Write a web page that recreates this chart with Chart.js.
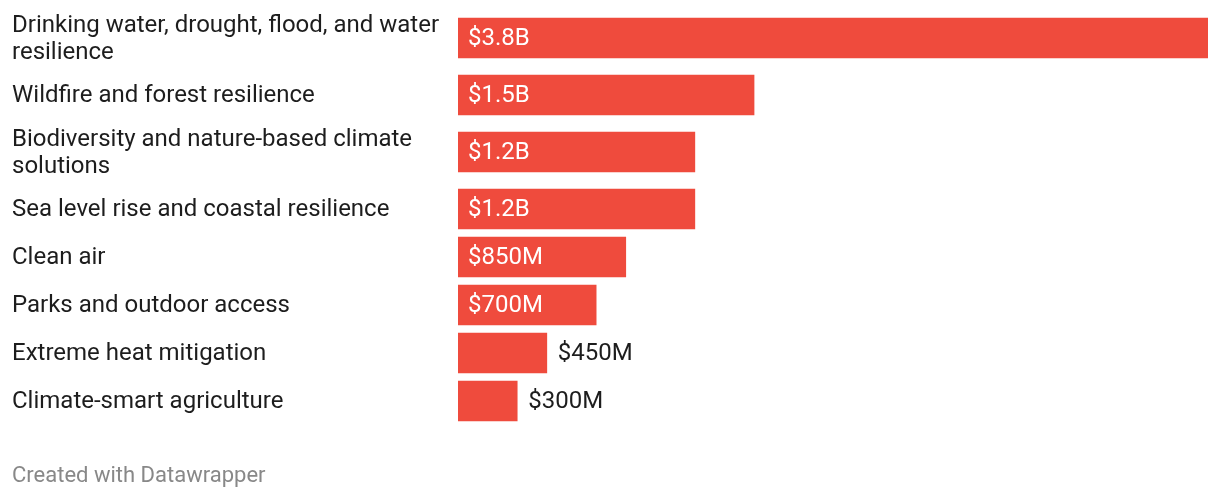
<!DOCTYPE html>
<html>
<head>
<meta charset="utf-8">
<script src="https://cdn.jsdelivr.net/npm/chart.js@4"></script>
<style>
  body { margin: 0; background: #fff; }
  #wrap { width: 1220px; height: 498px; }
</style>
</head>
<body>
<div id="wrap"><canvas id="funding-chart"></canvas></div>
<script>
"use strict";

Chart.defaults.font.family = "Roboto, 'Noto Sans', sans-serif";
Chart.defaults.font.size = 24;

// categories (arrays = wrapped lines), values in billions of dollars
var categories = [
  ["Drinking water, drought, flood, and water", "resilience"],
  ["Wildfire and forest resilience"],
  ["Biodiversity and nature-based climate", "solutions"],
  ["Sea level rise and coastal resilience"],
  ["Clean air"],
  ["Parks and outdoor access"],
  ["Extreme heat mitigation"],
  ["Climate-smart agriculture"],
];
var amounts = [3.8, 1.5, 1.2, 1.2, 0.85, 0.7, 0.45, 0.3];

function money(v) {
  return v >= 1 ? "$" + v.toFixed(1) + "B" : "$" + Math.round(v * 1000) + "M";
}

// row slots: taller rows where the label wraps
var rowPos = [];
var acc = 0;
categories.forEach(function (lines) {
  var h = 48 + 18 * (lines.length - 1);
  rowPos.push(acc + h / 2);
  acc += h;
});

var barLabels = {
  id: "barLabels",
  afterDatasetsDraw: function (chart) {
    var ctx = chart.ctx;
    var meta = chart.getDatasetMeta(0);
    ctx.save();
    ctx.font = "24px Roboto, 'Noto Sans', sans-serif";
    ctx.textBaseline = "middle";
    ctx.textAlign = "left";
    meta.data.forEach(function (bar, i) {
      var txt = money(amounts[i]);
      var w = ctx.measureText(txt).width;
      var barW = bar.x - bar.base;
      if (barW > w + 40) {
        ctx.fillStyle = "#ffffff";
        ctx.fillText(txt, bar.base + 10, bar.y + 1);
      } else {
        ctx.fillStyle = "#1d1d1d";
        ctx.fillText(txt, bar.x + 11, bar.y + 1);
      }
    });
    ctx.restore();
  },
};

var ctx1 = document.getElementById("funding-chart").getContext("2d");

var fundingChart = new Chart(ctx1, {
  type: "bar",
  data: {
    datasets: [
      {
        data: amounts.map(function (v, i) {
          return { x: v, y: rowPos[i] };
        }),
        backgroundColor: "#ef4b3d",
        barThickness: 40,
      },
    ],
  },
  options: {
    indexAxis: "y",
    responsive: true,
    maintainAspectRatio: false,
    animation: false,
    layout: {
      padding: { left: 12, right: 12, top: 5, bottom: 0 },
    },
    plugins: {
      legend: { display: false },
      tooltip: { enabled: false },
      title: {
        display: true,
        text: "Created with Datawrapper",
        position: "bottom",
        align: "start",
        color: "#888888",
        font: { size: 22, weight: "normal", lineHeight: 1.2 },
        padding: { top: 37.8, bottom: 8.8 },
      },
    },
    scales: {
      x: {
        display: false,
        min: 0,
        max: 3.8,
      },
      y: {
        type: "linear",
        reverse: true,
        offset: false,
        grace: 0,
        min: 0,
        max: acc,
        border: { display: false },
        grid: { display: false },
        afterBuildTicks: function (axis) {
          axis.ticks = rowPos.map(function (p) {
            return { value: p };
          });
        },
        afterFit: function (axis) {
          axis.width = 446;
          axis.paddingTop = 0;
          axis.paddingBottom = 0;
        },
        ticks: {
          autoSkip: false,
          crossAlign: "far",
          labelOffset: 1,
          color: "#1d1d1d",
          font: { size: 24, lineHeight: 1.125 },
          callback: function (value, index) {
            return categories[index];
          },
        },
      },
    },
  },
  plugins: [barLabels],
});
</script>
</body>
</html>
